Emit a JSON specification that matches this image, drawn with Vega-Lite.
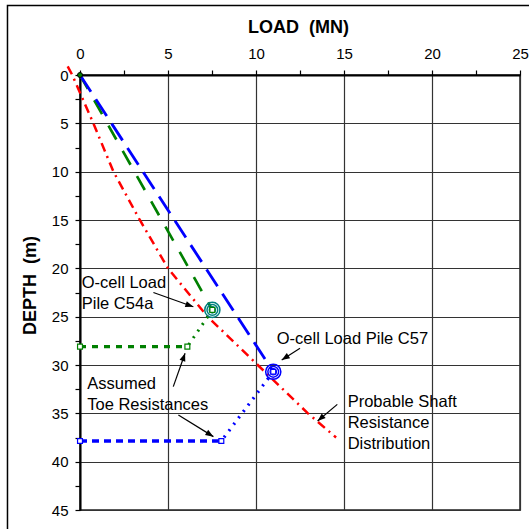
{
  "$schema": "https://vega.github.io/schema/vega-lite/v6.json",
  "width": 440,
  "height": 435,
  "autosize": "none",
  "padding": {"left": 80, "top": 75, "right": 9, "bottom": 19},
  "background": "white",
  "config": {
    "view": {"stroke": "#222", "strokeWidth": 1.5},
    "font": "Liberation Sans"
  },
  "resolve": {"scale": {"color": "independent", "stroke": "independent", "strokeDash": "independent", "strokeWidth": "independent"}},
  "datasets": {
    "lines": [
      {"s": "shaft", "load": -0.7, "depth": -0.9},
      {"s": "shaft", "load": -0.44, "depth": 0},
      {"s": "shaft", "load": 0.76, "depth": 5},
      {"s": "shaft", "load": 1.9, "depth": 10},
      {"s": "shaft", "load": 3.4, "depth": 15},
      {"s": "shaft", "load": 5.0, "depth": 20},
      {"s": "shaft", "load": 7.25, "depth": 25},
      {"s": "shaft", "load": 10.1, "depth": 30},
      {"s": "shaft", "load": 12.95, "depth": 35},
      {"s": "shaft", "load": 14.55, "depth": 37.5},
      {"s": "c54a", "load": 0, "depth": 0},
      {"s": "c54a", "load": 7.52, "depth": 24.3},
      {"s": "c57", "load": 0, "depth": 0},
      {"s": "c57", "load": 10.98, "depth": 30.7},
      {"s": "c54a_link", "load": 7.52, "depth": 24.3},
      {"s": "c54a_link", "load": 6.1, "depth": 28.1},
      {"s": "c57_link", "load": 10.98, "depth": 30.7},
      {"s": "c57_link", "load": 8.03, "depth": 37.86},
      {"s": "c54a_toe", "load": 0, "depth": 28.1},
      {"s": "c54a_toe", "load": 6.1, "depth": 28.1},
      {"s": "c57_toe", "load": 0, "depth": 37.86},
      {"s": "c57_toe", "load": 8.03, "depth": 37.86}
    ],
    "squares": [
      {"pile": "C54a", "load": 0, "depth": 28.1},
      {"pile": "C54a", "load": 6.1, "depth": 28.1},
      {"pile": "C57", "load": 0, "depth": 37.86},
      {"pile": "C57", "load": 8.03, "depth": 37.86},
      {"pile": "C54a", "load": 7.52, "depth": 24.3},
      {"pile": "C57", "load": 10.98, "depth": 30.7}
    ],
    "ocell": [
      {"pile": "C54a", "load": 7.52, "depth": 24.3},
      {"pile": "C57", "load": 10.98, "depth": 30.7}
    ],
    "arrows": [
      {"id": "a1", "x": 4.17, "y": 22.5, "x2": 6.44, "y2": 23.98},
      {"id": "a2", "x": 12.5, "y": 28.27, "x2": 11.46, "y2": 29.48},
      {"id": "a3", "x": 5.3, "y": 32.24, "x2": 5.97, "y2": 28.79},
      {"id": "a4", "x": 5.59, "y": 35.17, "x2": 7.58, "y2": 37.41},
      {"id": "a5", "x": 14.62, "y": 34.07, "x2": 13.5, "y2": 35.79}
    ],
    "notes": [
      {"label": "O-cell Load\nPile C54a", "load": 0.1, "depth": 22.03},
      {"label": "O-cell Load Pile C57", "load": 11.18, "depth": 27.86},
      {"label": "Assumed\nToe Resistances", "load": 0.41, "depth": 32.5},
      {"label": "Probable Shaft\nResistance\nDistribution", "load": 15.21, "depth": 34.37}
    ],
    "frame": [
      {"x1": -4.12, "y1": -7.19, "x2": 26.5, "y2": 48}
    ]
  },
  "encoding": {
    "x": {
      "field": "load", "type": "quantitative",
      "scale": {"domain": [0, 25], "nice": false, "zero": false},
      "axis": {
        "orient": "top",
        "title": "LOAD\u00a0\u00a0(MN)",
        "titleFontSize": 18, "titleFontWeight": "bold", "titleColor": "black",
        "titleBaseline": "alphabetic", "titleX": 218, "titleY": -43,
        "values": [0, 2.5, 5, 7.5, 10, 12.5, 15, 17.5, 20, 22.5, 25],
        "labelExpr": "datum.value % 5 === 0 ? datum.label : ''",
        "labelFontSize": 15, "labelColor": "black", "labelBaseline": "alphabetic", "labelPadding": 12,
        "labelFlush": false, "labelOverlap": false,
        "tickSize": 5, "tickColor": "black", "tickWidth": 1.2,
        "domainColor": "black", "domainWidth": 2,
        "grid": true, "gridColor": "#333", "gridWidth": 1.2,
        "gridOpacity": {"condition": {"test": "datum.value % 5 !== 0", "value": 0}, "value": 1}
      }
    },
    "y": {
      "field": "depth", "type": "quantitative",
      "scale": {"domain": [0, 45], "nice": false, "zero": false, "reverse": true},
      "axis": {
        "orient": "left",
        "title": "DEPTH\u00a0\u00a0(m)",
        "titleFontSize": 18, "titleFontWeight": "bold", "titleColor": "black",
        "titleAngle": 270, "titleAlign": "center", "titleBaseline": "middle",
        "titleX": -50, "titleY": 210,
        "values": [0, 2.5, 5, 7.5, 10, 12.5, 15, 17.5, 20, 22.5, 25, 27.5, 30, 32.5, 35, 37.5, 40, 42.5, 45],
        "labelExpr": "datum.value % 5 === 0 ? datum.label : ''",
        "labelFontSize": 15, "labelColor": "black", "labelPadding": 7,
        "labelFlush": false, "labelOverlap": false,
        "tickSize": 5, "tickColor": "black", "tickWidth": 1.2,
        "domainColor": "black", "domainWidth": 2,
        "grid": true, "gridColor": "#333", "gridWidth": 1.2,
        "gridOpacity": {"condition": {"test": "datum.value % 5 !== 0", "value": 0}, "value": 1}
      }
    }
  },
  "layer": [
    {
      "data": {"name": "frame"},
      "mark": {"type": "rect", "filled": false, "stroke": "black", "strokeWidth": 1.5, "clip": false},
      "encoding": {
        "x": {"field": "x1", "type": "quantitative"},
        "x2": {"field": "x2"},
        "y": {"field": "y1", "type": "quantitative"},
        "y2": {"field": "y2"}
      }
    },
    {
      "data": {"name": "lines"},
      "mark": {"type": "line", "clip": false},
      "encoding": {
        "detail": {"field": "s"},
        "order": {"field": "depth"},
        "color": {
          "field": "s", "type": "nominal", "legend": null,
          "scale": {
            "domain": ["shaft", "c54a", "c57", "c54a_link", "c57_link", "c54a_toe", "c57_toe"],
            "range": ["#ff0000", "#008000", "#0000ff", "#008000", "#0000ff", "#008000", "#0000ff"]
          }
        },
        "strokeDash": {
          "field": "s", "type": "nominal", "legend": null,
          "scale": {
            "domain": ["shaft", "c54a", "c57", "c54a_link", "c57_link", "c54a_toe", "c57_toe"],
            "range": [[9, 5, 2, 5], [16, 13], [20, 9], [2, 6], [2, 6], [6, 6], [7, 5]]
          }
        },
        "strokeWidth": {
          "field": "s", "type": "nominal", "legend": null,
          "scale": {
            "domain": ["shaft", "c54a", "c57", "c54a_link", "c57_link", "c54a_toe", "c57_toe"],
            "range": [2.5, 3.5, 3.5, 2, 2, 3, 3]
          }
        }
      }
    },
    {
      "data": {"name": "ocell"},
      "mark": {"type": "point", "shape": "circle", "filled": false, "size": 230, "strokeWidth": 1.5, "opacity": 1},
      "encoding": {
        "color": {"field": "pile", "type": "nominal", "legend": null, "scale": {"domain": ["C54a", "C57"], "range": ["#008080", "#0000ff"]}}
      }
    },
    {
      "data": {"name": "ocell"},
      "mark": {"type": "point", "shape": "circle", "filled": false, "size": 115, "strokeWidth": 1.5, "opacity": 1},
      "encoding": {
        "color": {"field": "pile", "type": "nominal", "legend": null, "scale": {"domain": ["C54a", "C57"], "range": ["#008080", "#0000ff"]}}
      }
    },
    {
      "data": {"name": "ocell"},
      "mark": {"type": "point", "shape": "circle", "filled": false, "size": 40, "strokeWidth": 1.3, "opacity": 1},
      "encoding": {
        "color": {"field": "pile", "type": "nominal", "legend": null, "scale": {"domain": ["C54a", "C57"], "range": ["#008080", "#0000ff"]}}
      }
    },
    {
      "data": {"name": "squares"},
      "mark": {"type": "point", "shape": "square", "filled": false, "fill": "white", "fillOpacity": 1, "size": 24, "strokeWidth": 1.2, "opacity": 1},
      "encoding": {
        "stroke": {"field": "pile", "type": "nominal", "legend": null, "scale": {"domain": ["C54a", "C57"], "range": ["#008000", "#0000ff"]}}
      }
    },
    {
      "data": {"values": [{"load": 0, "depth": 0}]},
      "mark": {"type": "point", "shape": "circle", "filled": true, "fill": "#008000", "stroke": "black", "strokeWidth": 1, "size": 25, "opacity": 1}
    },
    {
      "data": {"name": "arrows"},
      "mark": {"type": "rule", "color": "black", "strokeWidth": 1.2},
      "encoding": {
        "x": {"field": "x", "type": "quantitative"},
        "y": {"field": "y", "type": "quantitative"},
        "x2": {"field": "x2"},
        "y2": {"field": "y2"}
      }
    },
    {
      "data": {"name": "arrows"},
      "transform": [{"filter": "datum.id === 'a1'"}],
      "mark": {"type": "point", "shape": "M0,0L-0.38,1L0.38,1Z", "filled": true, "color": "black", "size": 256, "angle": 109.3, "opacity": 1},
      "encoding": {"x": {"field": "x2", "type": "quantitative"}, "y": {"field": "y2", "type": "quantitative"}}
    },
    {
      "data": {"name": "arrows"},
      "transform": [{"filter": "datum.id === 'a2'"}],
      "mark": {"type": "point", "shape": "M0,0L-0.38,1L0.38,1Z", "filled": true, "color": "black", "size": 256, "angle": 237.4, "opacity": 1},
      "encoding": {"x": {"field": "x2", "type": "quantitative"}, "y": {"field": "y2", "type": "quantitative"}}
    },
    {
      "data": {"name": "arrows"},
      "transform": [{"filter": "datum.id === 'a3'"}],
      "mark": {"type": "point", "shape": "M0,0L-0.38,1L0.38,1Z", "filled": true, "color": "black", "size": 256, "angle": 19.3, "opacity": 1},
      "encoding": {"x": {"field": "x2", "type": "quantitative"}, "y": {"field": "y2", "type": "quantitative"}}
    },
    {
      "data": {"name": "arrows"},
      "transform": [{"filter": "datum.id === 'a4'"}],
      "mark": {"type": "point", "shape": "M0,0L-0.38,1L0.38,1Z", "filled": true, "color": "black", "size": 256, "angle": 121.8, "opacity": 1},
      "encoding": {"x": {"field": "x2", "type": "quantitative"}, "y": {"field": "y2", "type": "quantitative"}}
    },
    {
      "data": {"name": "arrows"},
      "transform": [{"filter": "datum.id === 'a5'"}],
      "mark": {"type": "point", "shape": "M0,0L-0.38,1L0.38,1Z", "filled": true, "color": "black", "size": 256, "angle": 229.6, "opacity": 1},
      "encoding": {"x": {"field": "x2", "type": "quantitative"}, "y": {"field": "y2", "type": "quantitative"}}
    },
    {
      "data": {"name": "notes"},
      "mark": {"type": "text", "align": "left", "baseline": "alphabetic", "lineBreak": "\n", "lineHeight": 21, "fontSize": 16.5, "color": "black", "font": "Liberation Sans"},
      "encoding": {"text": {"field": "label"}}
    }
  ]
}
